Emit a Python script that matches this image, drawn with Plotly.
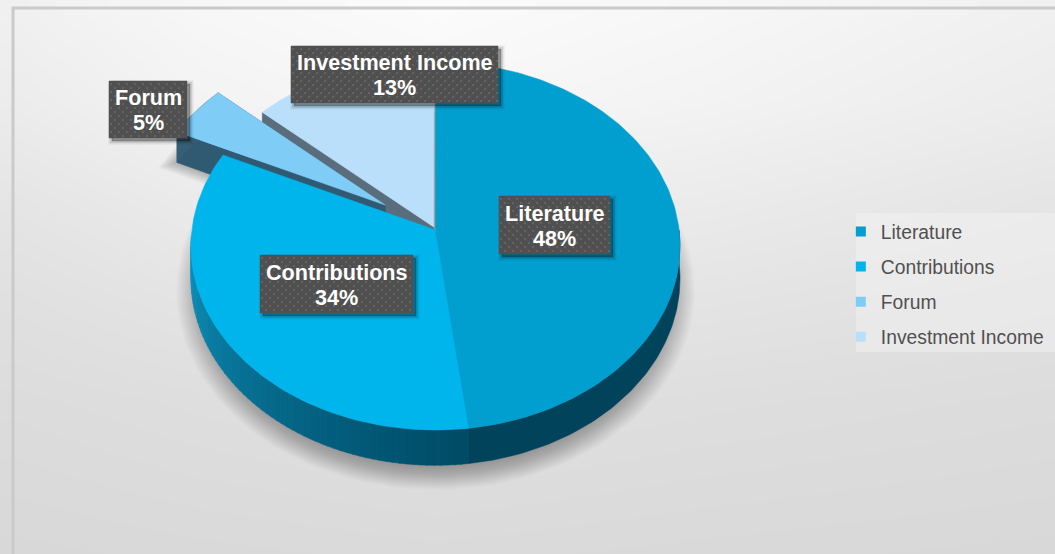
import math
import plotly.graph_objects as go

categories = ["Literature", "Contributions", "Forum", "Investment Income"]
values = [48, 34, 4.6, 13.4]
top_colors = ["#009fcf", "#00b5ec", "#7fcdf7", "#badffa"]
pulls = [0.0, 0.0, 0.25, 0.018]
label_boxes = [(499, 610, 196, 254), (260, 413, 255, 313), (109, 187, 81, 138), (291, 498, 46, 103)]

bg_x = [14, 200, 435, 700, 1055]
bg_y = [9, 100, 200, 300, 400, 554]
bg_gray = [
    [240, 247, 251, 247, 240],
    [236, 243, 247, 243, 236],
    [229, 235, 238, 235, 229],
    [224, 228, 230, 228, 224],
    [220, 222, 224, 222, 220],
    [216, 217, 218, 217, 216],
]

CX, CY, RX, RY, K, DEPTH = 435.5, 230.0, 243.6, 182.6, 0.087, 32.2


def project(u, v, drop=0.0, scale=1.0):
    w = 1.0 / (1.0 - K * v)
    return CX + RX * u * w * scale, CY + (RY * v * scale + DEPTH * drop) * w


def disk(deg):
    a = math.radians(deg)
    return math.sin(a), -math.cos(a)


starts = []
acc = 0.0
for val in values:
    starts.append(acc)
    acc += val * 3.6


def offset(i):
    mu, mv = disk(starts[i] + values[i] * 1.8)
    return mu * pulls[i], mv * pulls[i]


def wedge(i, drop=0.0):
    a0, a1 = starts[i], starts[i] + values[i] * 3.6
    ou, ov = offset(i)
    pts = [project(ou, ov, drop)]
    n = max(2, int(a1 - a0))
    for k in range(n + 1):
        u, v = disk(a0 + (a1 - a0) * k / n)
        pts.append(project(u + ou, v + ov, drop))
    pts.append(pts[0])
    return [p[0] for p in pts], [p[1] for p in pts]


def arc_strip(i, a0, a1):
    ou, ov = offset(i)
    top, bot = [], []
    n = max(2, int(abs(a1 - a0)))
    for k in range(n + 1):
        u, v = disk(a0 + (a1 - a0) * k / n)
        top.append(project(u + ou, v + ov, 0))
        bot.append(project(u + ou, v + ov, 1))
    pts = top + bot[::-1] + top[:1]
    return [p[0] for p in pts], [p[1] for p in pts]


def cut_face(i, angle):
    ou, ov = offset(i)
    u, v = disk(angle)
    pts = [project(ou, ov, 0), project(u + ou, v + ov, 0), project(u + ou, v + ov, 1), project(ou, ov, 1)]
    pts.append(pts[0])
    return [p[0] for p in pts], [p[1] for p in pts]


def poly(x, y, color, line=None, width=0):
    return go.Scatter(
        x=x, y=y, mode="lines", fill="toself", fillcolor=color,
        line=dict(color=line or color, width=width if line else 0.5),
        hoverinfo="skip", showlegend=False,
    )


def mix(c1, c2, t):
    return "rgb(%d,%d,%d)" % tuple(round(a + (b - a) * t) for a, b in zip(c1, c2))


fig = go.Figure()
fig.add_trace(go.Heatmap(
    x=bg_x, y=bg_y, z=bg_gray, zmin=0, zmax=255, zsmooth="best", showscale=False,
    colorscale=[[0, "#000000"], [1, "#ffffff"]], hoverinfo="skip",
))

# soft shadow below the pie
layers = 30
for k in range(layers):
    sc = 1.062 - k * 0.0045
    pts = [project(*disk(d), 1.35, sc) for d in range(0, 361, 3)]
    fig.add_trace(poly([p[0] for p in pts], [p[1] for p in pts], "rgba(0,0,0,0.013)"))

# soft shadow of the pulled wedge
fx, fy = wedge(2, 1.0)
for w_ in (22, 19, 16, 13, 10, 7, 4):
    fig.add_trace(go.Scatter(
        x=fx, y=fy, mode="lines", line=dict(color="rgba(0,0,0,0.035)", width=w_),
        hoverinfo="skip", showlegend=False,
    ))

# Investment wedge
x, y = cut_face(3, starts[3])
fig.add_trace(poly(x, y, "#5a6d7d"))
x, y = wedge(3)
fig.add_trace(poly(x, y, top_colors[3]))

# Forum wedge
a0 = starts[2]
x, y = cut_face(2, a0 + values[2] * 3.6)
fig.add_trace(poly(x, y, "#4a6f86"))
x, y = cut_face(2, a0)
fig.add_trace(poly(x, y, "#2f5a72"))
x, y = arc_strip(2, a0, a0 + values[2] * 3.6)
fig.add_trace(poly(x, y, "#365f77"))
x, y = wedge(2)
fig.add_trace(poly(x, y, top_colors[2]))

# Rim of the two main wedges
dark = (0, 76, 103)
light = (14, 148, 192)
rim_end = starts[1] + 95
steps = 64
for k in range(steps):
    a = starts[1] + (rim_end - starts[1]) * k / steps
    b = starts[1] + (rim_end - starts[1]) * (k + 1.1) / steps
    x, y = arc_strip(1, a, b)
    fig.add_trace(poly(x, y, mix(dark, light, (k / steps) ** 1.2)))
x, y = arc_strip(0, 90, starts[1])
fig.add_trace(poly(x, y, "#00435b"))

# Tops of the two main wedges
x, y = wedge(1)
fig.add_trace(poly(x, y, top_colors[1]))
x, y = wedge(0)
fig.add_trace(poly(x, y, top_colors[0]))

# Label boxes with a dotted texture
for (x0, x1, y0, y1) in label_boxes:
    for off, alpha, wid in ((3, 0.07, 7), (3, 0.10, 4), (3, 0.16, 1)):
        bx = [x0 + off, x1 + off, x1 + off, x0 + off, x0 + off]
        by = [y0 + off, y0 + off, y1 + off, y1 + off, y0 + off]
        fig.add_trace(go.Scatter(
            x=bx, y=by, mode="lines", fill="toself", fillcolor=f"rgba(0,0,0,{alpha})",
            line=dict(color=f"rgba(0,0,0,{alpha})", width=wid), hoverinfo="skip", showlegend=False,
        ))
    fig.add_trace(poly([x0, x1, x1, x0, x0], [y0, y0, y1, y1, y0], "#505050"))
    dx, dy = [], []
    row = 0
    yy = y0 + 3
    while yy < y1:
        xx = x0 + 2 + (row % 2) * 4
        while xx < x1:
            dx.append(xx)
            dy.append(yy)
            xx += 8
        yy += 4
        row += 1
    fig.add_trace(go.Scatter(
        x=dx, y=dy, mode="markers", marker=dict(size=1.8, color="#6e6e6e"),
        hoverinfo="skip", showlegend=False,
    ))

# Legend entries
for name, col in zip(categories, top_colors):
    fig.add_trace(go.Scatter(
        x=[None], y=[None], mode="markers", name=name, legendgroup=name,
        marker=dict(symbol="square", size=10, color=col),
    ))

label_font = dict(family="Liberation Sans, Arial", size=21.6, color="#ffffff", weight="bold")
annotations = []
for name, val, (x0, x1, y0, y1) in zip(categories, values, label_boxes):
    xc, yc = (x0 + x1) / 2, (y0 + y1) / 2
    annotations.append(dict(x=xc, y=yc - 12, xref="x", yref="y", showarrow=False,
                            text=name, font=label_font))
    annotations.append(dict(x=xc, y=yc + 13, xref="x", yref="y", showarrow=False,
                            text=f"{round(val)}%", font=label_font))

fig.update_layout(
    width=1055, height=554, margin=dict(l=0, r=0, t=0, b=0),
    paper_bgcolor="#ffffff", plot_bgcolor="#ffffff",
    xaxis=dict(range=[0, 1055], visible=False, fixedrange=True),
    yaxis=dict(range=[554, 0], visible=False, fixedrange=True),
    annotations=annotations,
    shapes=[
        dict(type="rect", xref="x", yref="y", x0=13, x1=1060, y0=8, y1=560,
             line=dict(color="#cacaca", width=3), layer="above"),
        dict(type="rect", xref="x", yref="y", x0=856, x1=1055, y0=213, y1=352,
             fillcolor="rgba(245,245,245,0.45)", line=dict(width=0), layer="above"),
    ],
    legend=dict(
        x=0.797, y=0.4865, yanchor="middle", bgcolor="rgba(0,0,0,0)",
        font=dict(family="Liberation Sans, Arial", size=19.3, color="#505050"),
        traceorder="grouped", tracegroupgap=7, itemclick=False, itemdoubleclick=False,
    ),
)

fig.write_html(
    "out.html",
    config=dict(displayModeBar=False),
    post_script="document.body.style.margin='0';document.body.style.overflow='hidden';",
)
